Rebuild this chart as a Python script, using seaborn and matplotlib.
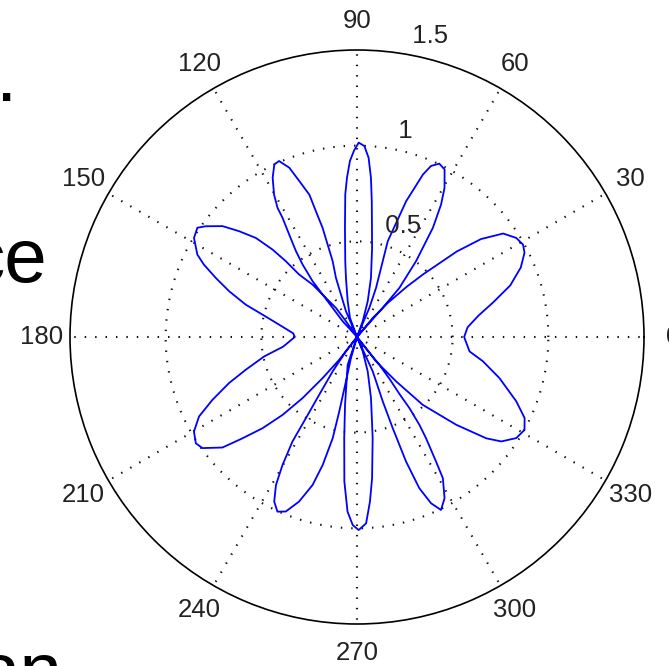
import numpy as np
import pandas as pd
import matplotlib
matplotlib.use("Agg")
import matplotlib.pyplot as plt
import seaborn as sns

# Polar frame: radial limit, rings and spokes
r_max = 1.5
ring_values = [0.5, 1.0, 1.5]
ring_labels = ["0.5", "1", "1.5"]
spoke_angles = list(range(0, 360, 30))

# Lobes of the pattern (angle in degrees, radius); each starts and ends at the origin
lobe_right_theta = [50.0, 50.4, 47.9, 45.3, 43.5, 40.6, 38.3, 35.3, 31.9, 29.1,
                    26.7, 23.0, 18.6, 14.3, 10.0, 5.0, 0.0, -7.3, -10.9, -16.1,
                    -22.0, -25.8, -29.0, -32.4, -35.9, -38.1, -41.5, -45.9, -48.6, -52.0,
                    -52.0]
lobe_right_r = [0.0, 0.129, 0.240, 0.370, 0.474, 0.687, 0.826, 0.936, 0.980, 0.993,
                0.980, 0.930, 0.845, 0.735, 0.645, 0.580, 0.560, 0.593, 0.670, 0.775,
                0.898, 0.973, 1.001, 0.986, 0.931, 0.858, 0.692, 0.494, 0.309, 0.161,
                0.0]

lobe_64_theta = [49.0, 48.6, 49.2, 52.1, 55.2, 57.6, 59.6, 62.4, 64.6, 66.6,
                 67.9, 70.1, 72.2, 70.8, 68.8, 67.0, 67.0]
lobe_64_r = [0.0, 0.200, 0.339, 0.503, 0.695, 0.820, 0.904, 0.988, 1.003, 0.974,
             0.917, 0.755, 0.526, 0.383, 0.275, 0.165, 0.0]

lobe_90_theta = [70.0, 70.0, 73.3, 76.7, 80.4, 82.2, 83.8, 85.0, 86.3, 87.8,
                 89.5, 90.9, 92.3, 93.6, 94.7, 96.3, 98.8, 100.6, 104.6, 110.2,
                 110.2]
lobe_90_r = [0.0, 0.087, 0.195, 0.317, 0.473, 0.576, 0.715, 0.836, 0.939, 0.999,
             1.016, 0.975, 0.921, 0.834, 0.748, 0.574, 0.401, 0.314, 0.193, 0.106,
             0.0]

lobe_116_theta = [113.2, 113.2, 110.7, 109.6, 107.8, 107.6, 107.5, 108.1, 108.5, 110.3,
                  111.8, 113.9, 115.6, 117.9, 120.2, 121.6, 122.0, 123.5, 125.4, 126.9,
                  128.5, 129.0, 130.0, 132.3, 132.3]
lobe_116_r = [0.0, 0.146, 0.237, 0.328, 0.416, 0.507, 0.598, 0.692, 0.784, 0.869,
              0.953, 1.006, 1.000, 0.942, 0.862, 0.793, 0.734, 0.642, 0.551, 0.473,
              0.373, 0.285, 0.198, 0.111, 0.0]

lobe_left_theta = [125.0, 125.0, 125.9, 128.5, 130.3, 132.8, 133.2, 134.0, 135.6, 138.1,
                   140.5, 143.8, 145.6, 148.7, 152.7, 154.7, 157.3, 160.3, 163.8, 166.7,
                   171.0, 176.7, 180.0, 187.5, 191.8, 196.4, 199.8, 203.5, 206.7, 210.1,
                   213.4, 215.7, 219.4, 221.5, 224.0, 226.3, 228.3, 230.1, 232.0, 232.0]
lobe_left_r = [0.0, 0.100, 0.187, 0.261, 0.359, 0.445, 0.543, 0.635, 0.740, 0.828,
               0.911, 0.980, 1.011, 0.997, 0.939, 0.885, 0.800, 0.710, 0.605, 0.507,
               0.412, 0.334, 0.325, 0.390, 0.495, 0.606, 0.711, 0.824, 0.924, 0.985,
               1.009, 0.995, 0.910, 0.799, 0.686, 0.563, 0.428, 0.280, 0.151, 0.0]

lobe_244_theta = [232.4, 232.4, 234.7, 236.8, 237.8, 238.3, 239.8, 241.3, 243.3, 245.5,
                  247.8, 250.6, 253.3, 255.0, 256.5, 256.6, 256.0, 254.0, 254.0]
lobe_244_r = [0.0, 0.094, 0.220, 0.361, 0.501, 0.641, 0.774, 0.882, 0.963, 1.003,
              0.985, 0.912, 0.807, 0.692, 0.544, 0.400, 0.239, 0.114, 0.0]

lobe_270_theta = [251.4, 251.4, 260.0, 262.8, 265.0, 266.9, 268.7, 270.5, 272.8, 274.5,
                  276.1, 278.8, 282.9, 287.3, 291.7, 291.7]
lobe_270_r = [0.0, 0.153, 0.360, 0.533, 0.758, 0.914, 0.983, 1.009, 0.975, 0.863,
              0.742, 0.535, 0.328, 0.188, 0.081, 0.0]

lobe_296_theta = [294.6, 294.6, 291.8, 291.4, 291.5, 292.4, 294.0, 295.9, 298.5, 301.3,
                  302.4, 304.3, 305.4, 306.4, 306.7, 307.8, 308.8, 309.0, 309.0]
lobe_296_r = [0.0, 0.198, 0.363, 0.512, 0.700, 0.855, 0.951, 1.005, 0.959, 0.864,
              0.771, 0.640, 0.563, 0.462, 0.370, 0.280, 0.186, 0.074, 0.0]

lobes = [
    (lobe_right_theta, lobe_right_r),
    (lobe_64_theta, lobe_64_r),
    (lobe_90_theta, lobe_90_r),
    (lobe_116_theta, lobe_116_r),
    (lobe_left_theta, lobe_left_r),
    (lobe_244_theta, lobe_244_r),
    (lobe_270_theta, lobe_270_r),
    (lobe_296_theta, lobe_296_r),
]
theta_all = np.concatenate([np.asarray(t, dtype=float) for t, _ in lobes])
r_all = np.concatenate([np.asarray(r, dtype=float) for _, r in lobes])
df = pd.DataFrame({"theta": np.deg2rad(theta_all), "r": r_all})

sns.set_style("white")
plt.rcParams["font.family"] = ["Liberation Sans", "DejaVu Sans"]

W, H = 669, 666
fig = plt.figure(figsize=(W / 100, H / 100), dpi=100)
fig.patch.set_facecolor("white")

cx, cy, rad = 357, 337, 287
ax = fig.add_axes([(cx - rad) / W, (H - cy - rad) / H, 2 * rad / W, 2 * rad / H],
                  projection="polar")

sns.lineplot(data=df, x="theta", y="r", sort=False, estimator=None,
             color="#0000ff", linewidth=1.3, ax=ax, zorder=3)

ax.set_rlim(0, r_max)
ax.set_xticks(np.deg2rad(spoke_angles))
ax.set_yticks(ring_values[:-1])
ax.set_xticklabels([])
ax.set_yticklabels([])
ax.set_xlabel("")
ax.set_ylabel("")
ax.tick_params(length=0)
ax.grid(True, color="#111111", linewidth=1.5, linestyle=(0, (0.7, 4.3)))
ax.spines["polar"].set_color("black")
ax.spines["polar"].set_linewidth(1.2)
ax.set_facecolor("white")

label_kw = dict(fontsize=18.5, color="#222222", clip_on=False)
for a in spoke_angles:
    ax.text(np.deg2rad(a), 1.1 * r_max, str(a), ha="center", va="center", **label_kw)
for v, lab in zip(ring_values, ring_labels):
    ax.text(np.deg2rad(82), v + 0.025, "  " + lab, ha="left", va="bottom", **label_kw)

# Slide text running alongside the chart
slide_kw = dict(fontsize=55, color="black", va="baseline", ha="left",
                family=["Liberation Sans Narrow", "Liberation Sans"])
fig.text(-4 / W, (H - 101) / H, ".", **slide_kw)
fig.text(-33 / W, (H - 282) / H, "ce", **slide_kw)
fig.text(-22 / W, (H - 696) / H, "an", **slide_kw)

fig.savefig("out.png", dpi=100)
